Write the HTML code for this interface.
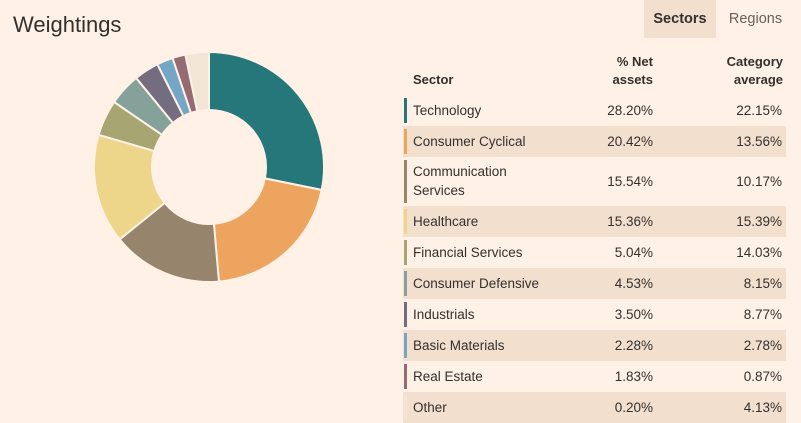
<!DOCTYPE html>
<html><head><meta charset="utf-8">
<style>
body{margin:0;width:801px;height:423px;background:#fff1e5;font-family:"Liberation Sans",sans-serif;color:#33302e;overflow:hidden;position:relative}
.abs{position:absolute}
.row{position:absolute;left:403px;width:383px;font-size:13.5px}
.row .bar{position:absolute;left:1px;top:3px;bottom:3px;width:3px}
.row .nm{position:absolute;left:10px}
.row .v1{position:absolute;right:133px}
.row .v2{position:absolute;right:4px}
.hd{font-weight:bold;font-size:13px;position:absolute;text-align:right;line-height:18px}
</style></head><body>
<div class="abs" style="left:13px;top:12px;font-size:22px">Weightings</div>
<div class="abs" style="left:644px;top:0;width:72px;height:38px;background:#f2dfce;font-size:14.5px;font-weight:bold;line-height:38px;text-align:center">Sectors</div>
<div class="abs" style="left:716px;top:0;width:79px;height:38px;font-size:14.5px;line-height:38px;text-align:center;color:#66605c">Regions</div>
<svg class="abs" style="left:0;top:0" width="400" height="423"><g id="pie"></g></svg>
<div class="hd" style="left:413px;top:71px;text-align:left">Sector</div>
<div class="hd" style="right:148px;top:53px">% Net<br>assets</div>
<div class="hd" style="right:18px;top:53px">Category<br>average</div>
<div id="rows"></div>
<script>
const sectors=["Technology","Consumer Cyclical","Communication Services","Healthcare","Financial Services","Consumer Defensive","Industrials","Basic Materials","Real Estate","Other"];
const netAssets=[28.20,20.42,15.54,15.36,5.04,4.53,3.50,2.28,1.83,0.20];
const categoryAvg=[22.15,13.56,10.17,15.39,14.03,8.15,8.77,2.78,0.87,4.13];
const colors=["#26777a","#eda45e","#96846c","#edd58a","#a7a572","#85a29a","#746d80","#74a7c6","#956a72","#f2e5d5"];
// donut (Other slice absorbs unallocated remainder)
const pieVals=netAssets.slice();
pieVals[pieVals.length-1]=100-netAssets.slice(0,-1).reduce((a,b)=>a+b,0);
const total=pieVals.reduce((a,b)=>a+b,0);
const cx=209,cy=167,R=115,r=57;
const g=document.getElementById('pie');
let a0=0;
function pt(rad,ang){return [cx+rad*Math.sin(ang),cy-rad*Math.cos(ang)];}
pieVals.forEach((v,i)=>{
  const a1=a0+v/total*2*Math.PI;
  const large=(a1-a0)>Math.PI?1:0;
  const [x1,y1]=pt(R,a0),[x2,y2]=pt(R,a1),[x3,y3]=pt(r,a1),[x4,y4]=pt(r,a0);
  const p=document.createElementNS('http://www.w3.org/2000/svg','path');
  p.setAttribute('d',`M${x1},${y1}A${R},${R} 0 ${large} 1 ${x2},${y2}L${x3},${y3}A${r},${r} 0 ${large} 0 ${x4},${y4}Z`);
  p.setAttribute('fill',colors[i]);p.setAttribute('stroke','#fff1e5');p.setAttribute('stroke-width','2');
  
  
  g.appendChild(p);a0=a1;
});
const tops=[95,126,157,206,237,268,299,330,361,392];
const rowsEl=document.getElementById('rows');
sectors.forEach((s,i)=>{
  const h=i===2?49:31;
  const d=document.createElement('div');d.className='row';
  
  
  d.style.top=tops[i]+'px';d.style.height=h+'px';
  if(i%2===1)d.style.background='#f2dfce';
  const lh=i===2?'line-height:19px;top:5px':'line-height:31px;top:0';
  const vt='line-height:'+h+'px;top:0';
  const nm=i===2?'Communication<br>Services':s;
  d.innerHTML=`<div class="bar" style="background:${colors[i]}"></div><div class="nm" style="${lh}">${nm}</div><div class="v1" style="${vt}">${netAssets[i].toFixed(2)}%</div><div class="v2" style="${vt}">${categoryAvg[i].toFixed(2)}%</div>`;
  rowsEl.appendChild(d);
});
</script>
</body></html>
